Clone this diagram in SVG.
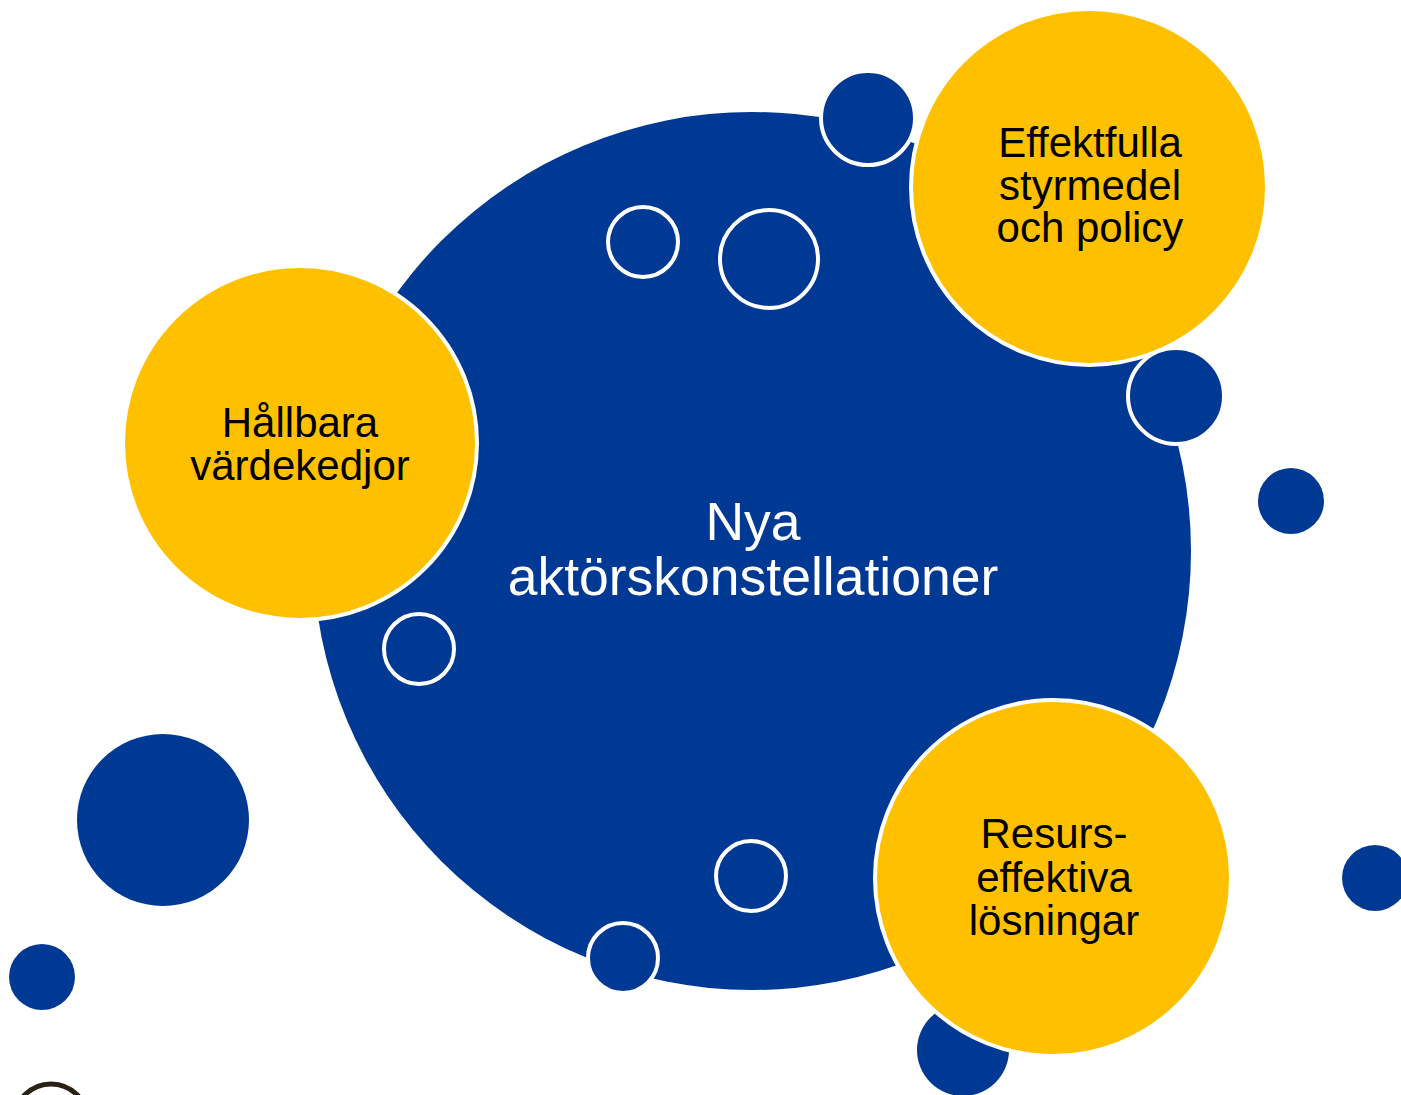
<svg xmlns="http://www.w3.org/2000/svg" width="1401" height="1095" viewBox="0 0 1401 1095">
<style>
.blue{fill:#003994}
.ring{fill:#003994;stroke:#ffffff;stroke-width:4}
.yellow{fill:#FFC000;stroke:#ffffff;stroke-width:4}
.t{font-family:"Liberation Sans",Arial,sans-serif;text-anchor:middle}
.dark{font-size:42px;fill:#000000}
.light{font-size:53.5px;fill:#ffffff}
</style>
<rect width="1401" height="1095" fill="#ffffff"/>
<g id="decor-back">
<circle cx="963" cy="1050" r="46" class="blue"/>
</g>
<g id="node-center">
<circle cx="752" cy="551" r="439" class="blue"/>
<text class="t light" x="753" y="540">Nya</text>
<text class="t light" x="753" y="595">aktörskonstellationer</text>
</g>
<g id="decor-inner">
<circle cx="643" cy="242" r="35" class="ring"/>
<circle cx="769" cy="259" r="49" class="ring"/>
<circle cx="419" cy="649" r="35" class="ring"/>
<circle cx="751" cy="876" r="35" class="ring"/>
<circle cx="623" cy="958" r="35" class="ring"/>
<circle cx="868" cy="118" r="47" class="ring"/>
</g>
<g id="node-hallbara">
<circle cx="300" cy="443" r="177" class="yellow"/>
<text class="t dark" x="300" y="437">Hållbara</text>
<text class="t dark" x="300" y="480">värdekedjor</text>
</g>
<g id="node-effektfulla">
<circle cx="1089" cy="187" r="178" class="yellow"/>
<text class="t dark" x="1090" y="157">Effektfulla</text>
<text class="t dark" x="1090" y="200">styrmedel</text>
<text class="t dark" x="1090" y="242">och policy</text>
</g>
<g id="node-resurs">
<circle cx="1053" cy="878" r="178" class="yellow"/>
<text class="t dark" x="1054" y="848">Resurs-</text>
<text class="t dark" x="1054" y="892">effektiva</text>
<text class="t dark" x="1054" y="935">lösningar</text>
</g>
<g id="decor-outer">
<circle cx="1176" cy="396" r="48" class="ring"/>
<circle cx="1291" cy="501" r="33" class="blue"/>
<circle cx="163" cy="820" r="86" class="blue"/>
<circle cx="42" cy="977" r="33" class="blue"/>
<circle cx="1375" cy="878" r="33" class="blue"/>
<circle cx="51" cy="1121" r="37" fill="none" stroke="#2a2116" stroke-width="5"/>
</g>
<g id="connectors"></g>
</svg>
